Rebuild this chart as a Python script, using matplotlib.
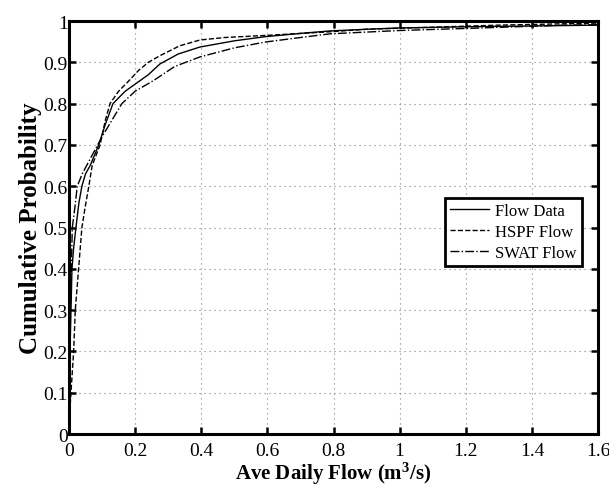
import matplotlib.pyplot as plt

plt.rcParams['font.family'] = ['Liberation Serif', 'DejaVu Serif']
plt.rcParams['mathtext.fontset'] = 'custom'
plt.rcParams['mathtext.rm'] = 'Liberation Serif'
plt.rcParams['mathtext.bf'] = 'Liberation Serif:bold'

# values
flow_x = [0.0, 0.001, 0.003, 0.006, 0.009, 0.014, 0.021, 0.03, 0.039, 0.05, 0.064, 0.09,
          0.11, 0.133, 0.17, 0.205, 0.24, 0.275, 0.33, 0.396, 0.5, 0.593, 0.7, 0.79,
          0.9, 0.99, 1.2, 1.4, 1.6]
flow_y = [0.0, 0.1, 0.2, 0.3, 0.4, 0.45, 0.5, 0.56, 0.6, 0.63, 0.65, 0.7,
          0.75, 0.8, 0.83, 0.85, 0.87, 0.896, 0.92, 0.937, 0.952, 0.962, 0.97, 0.976,
          0.98, 0.983, 0.986, 0.988, 0.99]

hspf_x = [0.0, 0.002, 0.006, 0.01, 0.014, 0.019, 0.029, 0.039, 0.049, 0.06, 0.07, 0.094,
          0.11, 0.124, 0.15, 0.175, 0.21, 0.24, 0.275, 0.335, 0.396, 0.47, 0.593,
          0.79, 0.9, 1.1, 1.3, 1.6]
hspf_y = [0.0, 0.05, 0.1, 0.15, 0.2, 0.3, 0.4, 0.5, 0.55, 0.6, 0.65, 0.7,
          0.76, 0.8, 0.83, 0.85, 0.88, 0.9, 0.916, 0.94, 0.954, 0.96, 0.965,
          0.974, 0.98, 0.985, 0.99, 0.995]

swat_x = [0.0, 0.001, 0.002, 0.004, 0.007, 0.01, 0.018, 0.025, 0.04, 0.06, 0.08,
          0.1, 0.13, 0.16, 0.2, 0.254, 0.32, 0.396, 0.5, 0.593, 0.7, 0.79,
          1.0, 1.2, 1.5, 1.6]
swat_y = [0.0, 0.1, 0.2, 0.3, 0.4, 0.5, 0.55, 0.6, 0.63, 0.66, 0.69,
          0.72, 0.76, 0.8, 0.83, 0.855, 0.89, 0.913, 0.935, 0.949, 0.96, 0.969,
          0.977, 0.982, 0.99, 0.991]

fig = plt.figure(figsize=(6.09, 4.89), dpi=100)
ax = fig.add_axes([0.1133, 0.1104, 0.8687, 0.8446])

ax.plot(flow_x, flow_y, color='black', linestyle='-', linewidth=1.0, label='Flow Data')
ax.plot(hspf_x, hspf_y, color='black', linestyle='--', linewidth=1.0, label='HSPF Flow')
ax.plot(swat_x, swat_y, color='black', linestyle='-.', linewidth=1.0, label='SWAT Flow')

ax.set_xlim(0, 1.6)
ax.set_ylim(0, 1)
ax.set_xticks([0, 0.2, 0.4, 0.6, 0.8, 1, 1.2, 1.4, 1.6])
ax.set_xticklabels(['0', '0.2', '0.4', '0.6', '0.8', '1', '1.2', '1.4', '1.6'])
ax.set_yticks([0, 0.1, 0.2, 0.3, 0.4, 0.5, 0.6, 0.7, 0.8, 0.9, 1])
ax.set_yticklabels(['0', '0.1', '0.2', '0.3', '0.4', '0.5', '0.6', '0.7', '0.8', '0.9', '1'])

ax.tick_params(direction='in', top=True, right=True, labelsize=14, width=1.8, length=5)
ax.tick_params(axis='y', pad=1)
ax.tick_params(axis='x', pad=6)
for s in ax.spines.values():
    s.set_linewidth(2.2)

ax.grid(True, linestyle=(0, (1, 3.5)), color='#808080', linewidth=0.8)

ax.set_xlabel(r'Ave Daily Flow (m$\mathbf{^3}$/s)', fontsize=15, fontweight='bold', labelpad=0)
ax.set_ylabel('Cumulative Probability', fontsize=18, fontweight='bold', labelpad=1)

leg = ax.legend(loc='center right', bbox_to_anchor=(0.985, 0.49), fontsize=12,
                fancybox=False, edgecolor='black', framealpha=1,
                handlelength=2.3, borderpad=0.3, labelspacing=0.3, handletextpad=0.4)
leg.get_frame().set_linewidth(2.0)

fig.savefig('out.png', dpi=100)
